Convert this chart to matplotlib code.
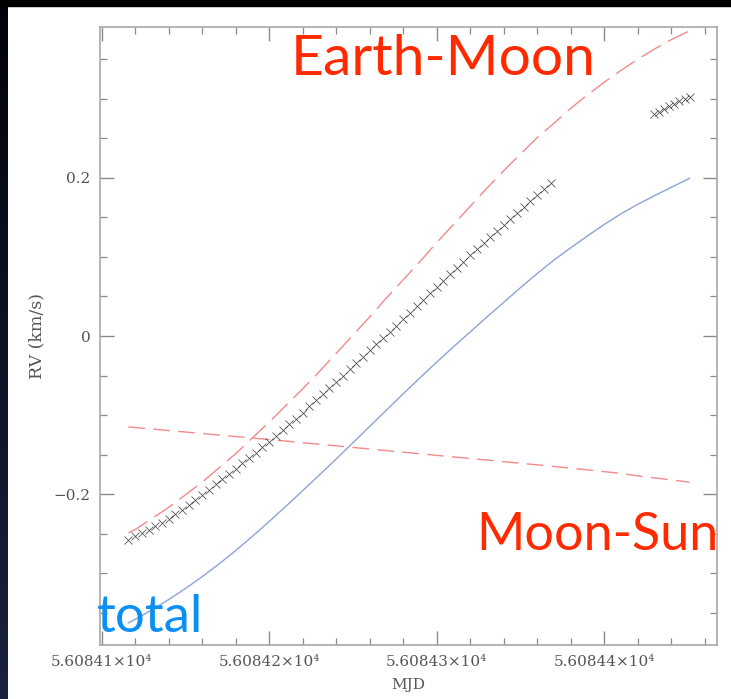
import numpy as np
import matplotlib
matplotlib.use("Agg")
import matplotlib.pyplot as plt
from matplotlib.patches import Rectangle
from matplotlib.colors import LinearSegmentedColormap

# ---------------- data (MJD, RV in km/s) ----------------
t_model = [56084.116, 56084.120, 56084.130, 56084.140, 56084.150, 56084.160,
           56084.170, 56084.180, 56084.190, 56084.200, 56084.210, 56084.220,
           56084.230, 56084.240, 56084.250, 56084.260, 56084.270, 56084.280,
           56084.290, 56084.300, 56084.310, 56084.320, 56084.330, 56084.340,
           56084.350, 56084.360, 56084.370, 56084.380, 56084.390, 56084.400,
           56084.410, 56084.420, 56084.430, 56084.440, 56084.451]
earth_moon = [-0.249, -0.245, -0.231, -0.217, -0.201, -0.185, -0.167, -0.149,
              -0.129, -0.109, -0.088, -0.067, -0.045, -0.022, 0.001, 0.024,
              0.048, 0.071, 0.094, 0.118, 0.141, 0.164, 0.187, 0.209, 0.230,
              0.251, 0.269, 0.288, 0.305, 0.321, 0.336, 0.350, 0.363, 0.375,
              0.386]
moon_sun = [-0.115, -0.1158, -0.1177, -0.1196, -0.1215, -0.1234, -0.1253,
            -0.1272, -0.1291, -0.131, -0.133, -0.135, -0.137, -0.139, -0.141,
            -0.143, -0.145, -0.147, -0.149, -0.151, -0.153, -0.155, -0.157,
            -0.159, -0.161, -0.163, -0.1651, -0.1672, -0.1694, -0.1716,
            -0.1738, -0.177, -0.1795, -0.182, -0.185]
total = [-0.363, -0.3586, -0.3466, -0.3336, -0.3196, -0.3046, -0.2886,
         -0.2716, -0.2536, -0.2348, -0.2155, -0.1958, -0.1759, -0.1557,
         -0.1352, -0.1145, -0.0938, -0.0733, -0.0530, -0.0332, -0.0138,
         0.0050, 0.0240, 0.0425, 0.0610, 0.0790, 0.0960, 0.1115, 0.1265,
         0.1410, 0.1545, 0.1665, 0.1775, 0.1880, 0.1995]

# measured RVs, first run
t_obs1 = [56084.116, 56084.120, 56084.124, 56084.128, 56084.132, 56084.136,
          56084.140, 56084.144, 56084.148, 56084.152, 56084.156, 56084.160,
          56084.164, 56084.168, 56084.172, 56084.176, 56084.180, 56084.184,
          56084.188, 56084.192, 56084.196, 56084.200, 56084.204, 56084.208,
          56084.212, 56084.216, 56084.220, 56084.224, 56084.228, 56084.232,
          56084.236, 56084.240, 56084.244, 56084.248, 56084.252, 56084.256,
          56084.260, 56084.264, 56084.268, 56084.272, 56084.276, 56084.280,
          56084.284, 56084.288, 56084.292, 56084.296, 56084.300, 56084.304,
          56084.308, 56084.312, 56084.316, 56084.320, 56084.324, 56084.328,
          56084.332, 56084.336, 56084.340, 56084.344, 56084.348, 56084.352,
          56084.356, 56084.360, 56084.364, 56084.368]
rv_obs1 = [-0.2580, -0.2537, -0.2493, -0.2450, -0.2407, -0.2363, -0.2320,
           -0.2258, -0.2196, -0.2134, -0.2072, -0.2010, -0.1944, -0.1878,
           -0.1812, -0.1746, -0.1680, -0.1612, -0.1544, -0.1476, -0.1408,
           -0.1340, -0.1266, -0.1192, -0.1118, -0.1044, -0.0970, -0.0892,
           -0.0814, -0.0736, -0.0658, -0.0580, -0.0500, -0.0420, -0.0340,
           -0.0260, -0.0180, -0.0102, -0.0024, 0.0054, 0.0132, 0.0210,
           0.0292, 0.0374, 0.0456, 0.0538, 0.0620, 0.0700, 0.0780, 0.0860,
           0.0940, 0.1020, 0.1096, 0.1172, 0.1248, 0.1324, 0.1400, 0.1476,
           0.1552, 0.1628, 0.1704, 0.1780, 0.1856, 0.1932]
# measured RVs, second run
t_obs2 = [56084.430, 56084.433, 56084.436, 56084.439, 56084.442, 56084.445,
          56084.448, 56084.451]
rv_obs2 = [0.281, 0.284, 0.287, 0.291, 0.294, 0.297, 0.300, 0.303]

xtick_vals = [56084.1, 56084.2, 56084.3, 56084.4]
xtick_labels = ["5.60841\u00d710\u2074", "5.60842\u00d710\u2074",
                "5.60843\u00d710\u2074", "5.60844\u00d710\u2074"]
ytick_vals = [-0.2, 0.0, 0.2]
ytick_labels = ["\u22120.2", "0", "0.2"]

# ---------------- figure ----------------
W, H = 731, 699
fig = plt.figure(figsize=(W / 100, H / 100), dpi=100, facecolor="white")

# dark slide border (top + left)
bg = fig.add_axes([0, 0, 8 / W, 1])
grad = np.linspace(0, 1, 256).reshape(-1, 1)
cm = LinearSegmentedColormap.from_list("slide", ["#02030a", "#1b2240"])
bg.imshow(grad, aspect="auto", cmap=cm, extent=[0, 1, 0, 1], origin="upper")
bg.set_axis_off()
fig.patches.append(Rectangle((0, 1 - 6 / H), 1, 6 / H, transform=fig.transFigure,
                             color="black", zorder=0))

ax = fig.add_axes([100 / W, 1 - 645 / H, 617 / W, 618 / H])
ax.set_facecolor("white")

ax.plot(t_model, earth_moon, color="#f28a8a", lw=1.0, dashes=(16, 6))
ax.plot(t_model, moon_sun, color="#f28a8a", lw=1.0, dashes=(12, 6))
ax.plot(t_model, total, color="#8fa2d8", lw=1.0)
ax.plot(t_obs1, rv_obs1, linestyle="none", marker="x", ms=6, mew=0.55,
        color="#2a2a2a", alpha=0.85)
ax.plot(t_obs2, rv_obs2, linestyle="none", marker="x", ms=5.5, mew=0.55,
        color="#2a2a2a", alpha=0.85)

ax.set_xlim(56084.09904, 56084.4674)
ax.set_ylim(-0.391, 0.391)

ax.set_xticks(xtick_vals)
ax.set_xticklabels(xtick_labels)
ax.set_xticks(np.arange(56084.10, 56084.47, 0.02), minor=True)
ax.set_yticks(ytick_vals)
ax.set_yticklabels(ytick_labels)
ax.set_yticks(np.arange(-0.35, 0.38, 0.05), minor=True)

tickc = "#8a8a8a"
ax.tick_params(which="both", direction="in", top=True, right=True, color=tickc,
               labelcolor="#555555", labelsize=11)
ax.tick_params(which="major", length=10, width=1.0, pad=7)
ax.tick_params(which="minor", length=5, width=0.9)
for lab in ax.get_xticklabels() + ax.get_yticklabels():
    lab.set_family("DejaVu Serif")
for sp in ax.spines.values():
    sp.set_color("#a8a8a8")
    sp.set_linewidth(1.2)

ax.set_xlabel("MJD", family="DejaVu Serif", color="#555555", fontsize=11, labelpad=7)
ax.set_ylabel("RV (km/s)", family="DejaVu Serif", color="#555555", fontsize=12.5,
              labelpad=6)

# slide annotations
fig.text(291 / W, 1 - 75 / H, "Earth-Moon", color="#ff2a00", fontsize=41,
         family="Lato", va="baseline", ha="left")
fig.text(476 / W, 1 - 550 / H, "Moon-Sun", color="#ff2a00", fontsize=37.5,
         family="Lato", va="baseline", ha="left")
fig.text(97 / W, 1 - 632 / H, "total", color="#0a90f5", fontsize=38,
         family="Lato", va="baseline", ha="left")

fig.savefig("out.png", dpi=100, facecolor="white")
